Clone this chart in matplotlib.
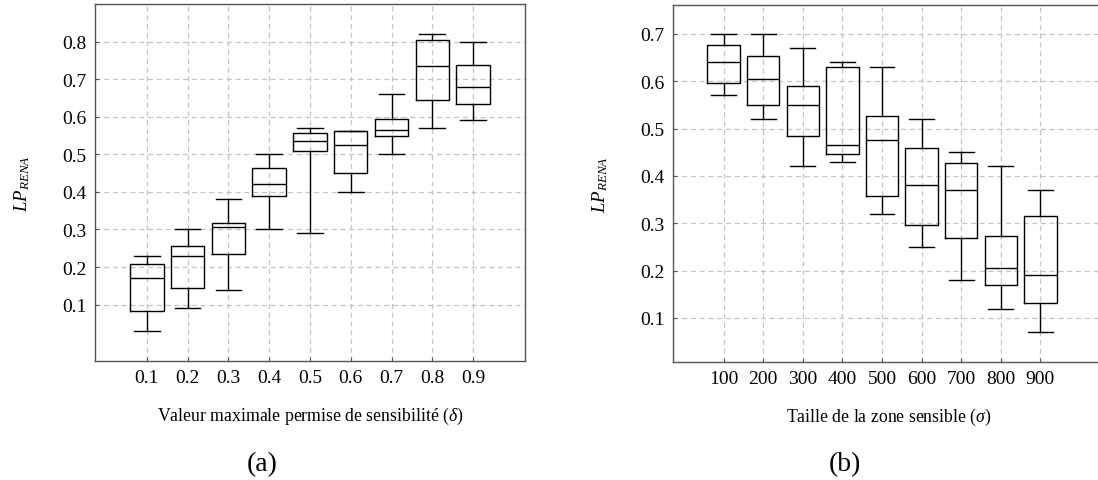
import matplotlib
matplotlib.use("Agg")
import matplotlib.pyplot as plt

plt.rcParams["font.family"] = ["Liberation Serif", "DejaVu Serif"]
plt.rcParams["mathtext.fontset"] = "custom"
plt.rcParams["mathtext.rm"] = "Liberation Serif"
plt.rcParams["mathtext.it"] = "Liberation Serif:italic"

# (a) max permitted sensitivity
delta_labels = ["0.1", "0.2", "0.3", "0.4", "0.5", "0.6", "0.7", "0.8", "0.9"]
delta_low = [0.03, 0.09, 0.14, 0.30, 0.29, 0.40, 0.50, 0.57, 0.59]
delta_q1 = [0.083, 0.143, 0.234, 0.390, 0.510, 0.450, 0.548, 0.644, 0.635]
delta_med = [0.170, 0.230, 0.306, 0.421, 0.536, 0.526, 0.565, 0.736, 0.680]
delta_q3 = [0.207, 0.255, 0.316, 0.463, 0.556, 0.561, 0.593, 0.805, 0.738]
delta_high = [0.23, 0.30, 0.38, 0.50, 0.57, 0.561, 0.66, 0.82, 0.80]

# (b) size of the sensitive zone
sigma_labels = ["100", "200", "300", "400", "500", "600", "700", "800", "900"]
sigma_low = [0.57, 0.52, 0.42, 0.43, 0.32, 0.25, 0.18, 0.12, 0.07]
sigma_q1 = [0.597, 0.549, 0.485, 0.447, 0.357, 0.297, 0.268, 0.170, 0.132]
sigma_med = [0.640, 0.604, 0.549, 0.465, 0.475, 0.380, 0.370, 0.206, 0.190]
sigma_q3 = [0.677, 0.654, 0.589, 0.630, 0.527, 0.459, 0.428, 0.273, 0.315]
sigma_high = [0.70, 0.70, 0.67, 0.64, 0.63, 0.52, 0.45, 0.42, 0.37]


def draw(ax, labels, low, q1, med, q3, high, xlabel, ylim, xlim, yticks):
    stats = []
    for i in range(len(labels)):
        stats.append({"whislo": low[i], "q1": q1[i], "med": med[i],
                      "q3": q3[i], "whishi": high[i], "fliers": []})
    pos = list(range(1, len(labels) + 1))
    line = {"color": "black", "linewidth": 1.0}
    ax.bxp(stats, positions=pos, widths=0.82, capwidths=0.63,
           showfliers=False, boxprops=line, whiskerprops=line,
           capprops=line, medianprops=line)
    ax.set_xticks(pos)
    ax.set_xticklabels(labels)
    ax.set_yticks(yticks)
    ax.set_yticklabels(["%.1f" % v for v in yticks])
    ax.set_xlim(*xlim)
    ax.set_ylim(*ylim)
    ax.grid(True, color="#c4c4c4", linestyle=(0, (4, 3)), linewidth=0.9)
    ax.set_axisbelow(True)
    for s in ax.spines.values():
        s.set_color("#555555")
        s.set_linewidth(1.0)
    ax.tick_params(direction="in", length=3, color="#555555",
                   labelsize=14, pad=6, top=False, right=False)
    ax.set_xlabel(xlabel, fontsize=12.8, labelpad=13)
    ax.set_ylabel("$LP_{RENA}$", fontsize=13.5, labelpad=22)


fig = plt.figure(figsize=(10.98, 4.81), dpi=100)
ax1 = fig.add_axes([0.0865, 0.2474, 0.3916, 0.7422])
ax2 = fig.add_axes([0.6129, 0.2453, 0.3934, 0.7422])

draw(ax1, delta_labels, delta_low, delta_q1, delta_med, delta_q3, delta_high,
     r"Valeur maximale permise de sensibilité ($\delta$)",
     (-0.05, 0.9), (-0.27, 10.27), [0.1, 0.2, 0.3, 0.4, 0.5, 0.6, 0.7, 0.8])
draw(ax2, sigma_labels, sigma_low, sigma_q1, sigma_med, sigma_q3, sigma_high,
     r"Taille de la zone sensible ($\sigma$)",
     (0.007, 0.761), (-0.28, 10.63), [0.1, 0.2, 0.3, 0.4, 0.5, 0.6, 0.7])

fig.text(262 / 1098, 1 - 465 / 481, "(a)", fontsize=20, ha="center", va="center")
fig.text(845 / 1098, 1 - 465 / 481, "(b)", fontsize=20, ha="center", va="center")

fig.savefig("out.png", dpi=100)
